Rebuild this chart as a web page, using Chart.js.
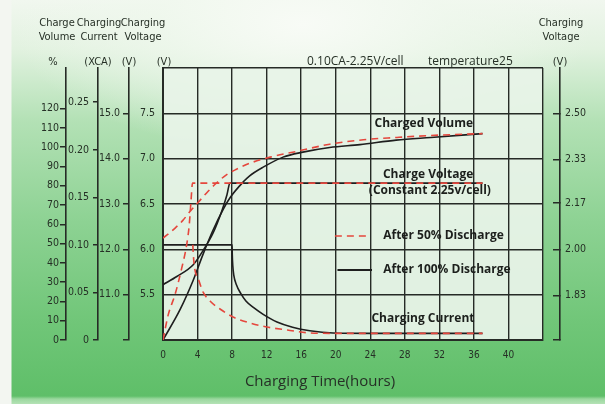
<!DOCTYPE html>
<html>
<head>
<meta charset="utf-8">
<script src="https://cdn.jsdelivr.net/npm/chart.js@4/dist/chart.umd.min.js"></script>
<style>
  html, body { margin: 0; padding: 0; }
  #wrap {
    position: relative;
    width: 605px;
    height: 404px;
    background:
      linear-gradient(to right, #f3f6f1 0, #f3f6f1 11px, rgba(0,0,0,0) 12px),
      linear-gradient(to bottom, rgba(0,0,0,0) 0, rgba(0,0,0,0) 396px, rgba(170,222,172,0.8) 399px, rgba(190,230,190,0.9) 404px),
      radial-gradient(ellipse 48% 32% at 50% 6%, rgba(248,251,246,1) 0%, rgba(240,248,238,0.7) 50%, rgba(240,248,238,0) 100%),
      linear-gradient(to bottom, #f1f7ef 0%, #e2f2e0 12%, #b3e1b5 30%, #8dd293 55%, #70c678 80%, #5dbe67 100%);
  }
</style>
</head>
<body>
<div id="wrap"><canvas id="myChart"></canvas></div>
<script>
// Tick labels for every axis
var hourTicks = [0, 4, 8, 12, 16, 20, 24, 28, 32, 36, 40];
var volumeTicks = [0, 10, 20, 30, 40, 50, 60, 70, 80, 90, 100, 110, 120];
var currentTicks = [0, 0.05, 0.10, 0.15, 0.20, 0.25];
var batteryVoltTicks = [10.0, 11.0, 12.0, 13.0, 14.0, 15.0];
var cellVoltTicks = [1.83, 2.00, 2.17, 2.33, 2.50];

// Charged volume (%)
var volHours100 = [0, 2, 3.5, 4.6, 5.8, 7, 7.8, 9.3, 10, 11.6, 13.9, 16.2, 19.3, 22.8, 27, 31, 37];
var volume100 = [0, 16, 31, 44, 57, 68, 74, 82, 85, 89.6, 94.8, 97.4, 99.8, 101.3, 103.6, 105, 107];
var volHours50 = [0, 1.4, 2.3, 3.2, 4.2, 5.2, 6.1, 7.3, 8.5, 10.1, 12.4, 15.5, 19.3, 23.2, 27.1, 30.9, 37];
var volume50 = [52.8, 58, 62, 67, 72, 77, 81, 85.5, 88.5, 91.7, 94.8, 97.8, 101.5, 103.8, 105, 106, 107];

// Charge voltage (V, 6V battery)
var voltHours100 = [0, 1.6, 3.5, 4.6, 5.8, 6.8, 7.4, 7.75, 10, 37];
var voltage100 = [5.61, 5.70, 5.83, 5.98, 6.18, 6.42, 6.60, 6.73, 6.73, 6.73];
var voltHours50 = [0, 0.61, 1.39, 2.16, 2.74, 3.04, 3.24, 3.42, 6, 37];
var voltage50 = [5.0, 5.28, 5.50, 5.79, 6.05, 6.27, 6.53, 6.73, 6.73, 6.73];

// Charging current (CA)
var curHours100 = [0, 8.0, 8.02, 8.08, 8.2, 8.5, 9.0, 9.6, 10.5, 11.6, 13.2, 15, 17, 19.7, 24, 37];
var current100 = [0.10, 0.10, 0.090, 0.078, 0.068, 0.058, 0.049, 0.041, 0.034, 0.027, 0.019, 0.0135, 0.0098, 0.0074, 0.007, 0.007];
var curHours50 = [3.45, 3.55, 3.7, 4.17, 4.63, 5.44, 6.6, 8.1, 10.07, 12, 14.4, 17, 19.7, 37];
var current50 = [0.10, 0.085, 0.0737, 0.062, 0.0505, 0.041, 0.0326, 0.0242, 0.0179, 0.0137, 0.0105, 0.0074, 0.007, 0.007];

var FONT = "'Liberation Sans Narrow', 'DejaVu Sans Condensed', 'Open Sans', sans-serif";
var BOLD = "'Open Sans', sans-serif";
var INK = '#263026';
var GRID = '#262b26';
var RED = '#e5473d';

Chart.defaults.font.family = FONT;
Chart.defaults.color = INK;

function pts(xs, ys) {
    return xs.map(function(x, i) { return { x: x, y: ys[i] }; });
}
function keepTicks(values) {
    return function(scale) { scale.ticks = values.map(function(v) { return { value: v }; }); };
}
function fixWidth(w) {
    return function(scale) { scale.width = w; };
}

// Plot background, headers and in-plot captions
var decor = {
    id: 'decor',
    beforeDraw: function(chart) {
        var a = chart.chartArea, ctx = chart.ctx;
        ctx.save();
        ctx.fillStyle = 'rgba(232,243,232,0.94)';
        ctx.fillRect(a.left, a.top, a.right - a.left, a.bottom - a.top);
        ctx.restore();
    },
    afterDraw: function(chart) {
        var ctx = chart.ctx, s = chart.scales;
        var x = s.x, y = s.y;
        ctx.save();
        ctx.fillStyle = INK;
        ctx.textBaseline = 'middle';

        // axis headers
        ctx.font = "11px " + FONT;
        ctx.textAlign = 'center';
        ctx.fillText('Charge', s.pct.right - 9, 23);
        ctx.fillText('Volume', s.pct.right - 9, 37);
        ctx.fillText('Charging', s.cur.right + 1, 23);
        ctx.fillText('Current', s.cur.right + 1, 37);
        ctx.fillText('Charging', s.y12.right + 14, 23);
        ctx.fillText('Voltage', s.y12.right + 14, 37);
        ctx.fillText('Charging', s.yR.left + 1, 23);
        ctx.fillText('Voltage', s.yR.left + 1, 37);
        ctx.fillText('%', s.pct.right - 13, 62);
        ctx.fillText('(XCA)', s.cur.right, 62);
        ctx.fillText('(V)', s.y12.right, 62);
        ctx.fillText('(V)', s.y.right + 1, 62);
        ctx.fillText('(V)', s.yR.left, 62);

        // test conditions
        ctx.font = "12px 'Open Sans', sans-serif";
        ctx.textAlign = 'left';
        ctx.fillText('0.10CA-2.25V/cell', 307, 62);
        ctx.fillText('temperature25', 428, 62);

        // x axis title
        ctx.font = "15px 'Open Sans', sans-serif";
        ctx.textAlign = 'center';
        ctx.fillText('Charging Time(hours)', 320, 382);

        // curve captions
        ctx.font = "bold 12px " + BOLD;
        ctx.fillStyle = '#1c1f1c';
        ctx.fillText('Charged Volume', x.getPixelForValue(30.2), y.getPixelForValue(7.39));
        ctx.fillText('Charge Voltage', x.getPixelForValue(30.7), y.getPixelForValue(6.82));
        ctx.fillText('(Constant 2.25v/cell)', x.getPixelForValue(30.9), y.getPixelForValue(6.65));
        ctx.fillText('Charging Current', x.getPixelForValue(30.1), y.getPixelForValue(5.24));

        // legend
        ctx.textAlign = 'left';
        ctx.fillText('After 50% Discharge', x.getPixelForValue(25.5), y.getPixelForValue(6.147));
        ctx.fillText('After 100% Discharge', x.getPixelForValue(25.5), y.getPixelForValue(5.772));
        ctx.lineWidth = 1.6;
        ctx.strokeStyle = RED;
        ctx.setLineDash([7, 5]);
        ctx.beginPath();
        ctx.moveTo(x.getPixelForValue(19.9), y.getPixelForValue(6.147));
        ctx.lineTo(x.getPixelForValue(23.9), y.getPixelForValue(6.147));
        ctx.stroke();
        ctx.setLineDash([]);
        ctx.strokeStyle = '#1e1e1e';
        ctx.lineWidth = 1.8;
        ctx.beginPath();
        ctx.moveTo(x.getPixelForValue(20.2), y.getPixelForValue(5.772));
        ctx.lineTo(x.getPixelForValue(24.2), y.getPixelForValue(5.772));
        ctx.stroke();
        ctx.restore();
    }
};

function redLine(data, axis) {
    return { data: data, yAxisID: axis, borderColor: RED, borderWidth: 1.6, borderDash: [7, 5] };
}
function blackLine(data, axis) {
    return { data: data, yAxisID: axis, borderColor: '#1e1e1e', borderWidth: 1.6 };
}

var sideAxis = function(weight, width, tickLength, padding) {
    return {
        type: 'linear',
        position: 'left',
        weight: weight,
        afterFit: fixWidth(width),
        grid: { drawOnChartArea: false, drawTicks: true, tickLength: tickLength, color: GRID, lineWidth: 1.5 },
        border: { display: true, color: GRID, width: 1.6 },
        ticks: { padding: padding, font: { size: 10.5 }, color: INK }
    };
};

var pctAxis = sideAxis(3, 40, 6, 1);
pctAxis.min = 0; pctAxis.max = 141;
pctAxis.afterBuildTicks = keepTicks(volumeTicks);

var curAxis = sideAxis(2, 32, 5, 4);
curAxis.min = 0; curAxis.max = 0.286;
curAxis.afterBuildTicks = keepTicks(currentTicks);
curAxis.ticks.callback = function(v) { return v === 0 ? '0' : v.toFixed(2); };

var y12Axis = sideAxis(1, 31, 6, 3);
y12Axis.min = 10; y12Axis.max = 16;
y12Axis.afterBuildTicks = keepTicks(batteryVoltTicks);
y12Axis.ticks.callback = function(v) { return v < 10.5 ? '' : v.toFixed(1); };

var ctx = document.getElementById('myChart').getContext('2d');
var myChart = new Chart(ctx, {
    type: 'line',
    data: {
        datasets: [
            redLine(pts(volHours50, volume50), 'pct'),
            redLine(pts(voltHours50, voltage50), 'y'),
            redLine(pts(curHours50, current50), 'cur'),
            blackLine(pts(volHours100, volume100), 'pct'),
            blackLine(pts(voltHours100, voltage100), 'y'),
            blackLine(pts(curHours100, current100), 'cur')
        ]
    },
    options: {
        responsive: true,
        maintainAspectRatio: false,
        animation: false,
        layout: { padding: { left: 26, right: 5, top: 68, bottom: 10 } },
        elements: {
            point: { radius: 0 },
            line: { cubicInterpolationMode: 'monotone', fill: false }
        },
        plugins: { legend: { display: false }, tooltip: { enabled: false } },
        scales: {
            x: {
                type: 'linear',
                min: 0,
                max: 44,
                afterFit: function(s) { s.height = 54; },
                grid: { color: GRID, lineWidth: 1.4, drawTicks: false },
                border: { color: GRID, width: 2 },
                ticks: {
                    stepSize: 4,
                    autoSkip: false,
                    maxRotation: 0,
                    padding: 9,
                    font: { size: 10 },
                    color: INK,
                    callback: function(v) { return hourTicks.indexOf(v) >= 0 ? v : ''; }
                }
            },
            y: {
                type: 'linear',
                position: 'left',
                weight: 0,
                min: 5,
                max: 8,
                afterFit: fixWidth(34),
                grid: { color: GRID, lineWidth: 1.4, drawTicks: false },
                border: { color: GRID, width: 2 },
                ticks: {
                    stepSize: 0.5,
                    padding: 8,
                    font: { size: 10.5 },
                    color: INK,
                    callback: function(v) { return (v === 5 || v === 8) ? '' : v.toFixed(1); }
                }
            },
            y12: y12Axis,
            cur: curAxis,
            pct: pctAxis,
            gap: {
                type: 'linear',
                position: 'right',
                weight: 0,
                afterFit: fixWidth(17),
                grid: { display: false },
                border: { display: false },
                ticks: { display: false }
            },
            yR: {
                type: 'linear',
                position: 'right',
                weight: 1,
                min: 5 / 3,
                max: 8 / 3,
                afterFit: fixWidth(40),
                afterBuildTicks: keepTicks([5 / 3].concat(cellVoltTicks)),
                grid: { drawOnChartArea: false, drawTicks: true, tickLength: -7, color: GRID, lineWidth: 1.5 },
                border: { display: true, color: GRID, width: 1.6 },
                ticks: {
                    padding: 12,
                    font: { size: 10.5 },
                    color: INK,
                    callback: function(v) { return v < 1.7 ? '' : v.toFixed(2); }
                }
            }
        }
    },
    plugins: [decor]
});
</script>
</body>
</html>
